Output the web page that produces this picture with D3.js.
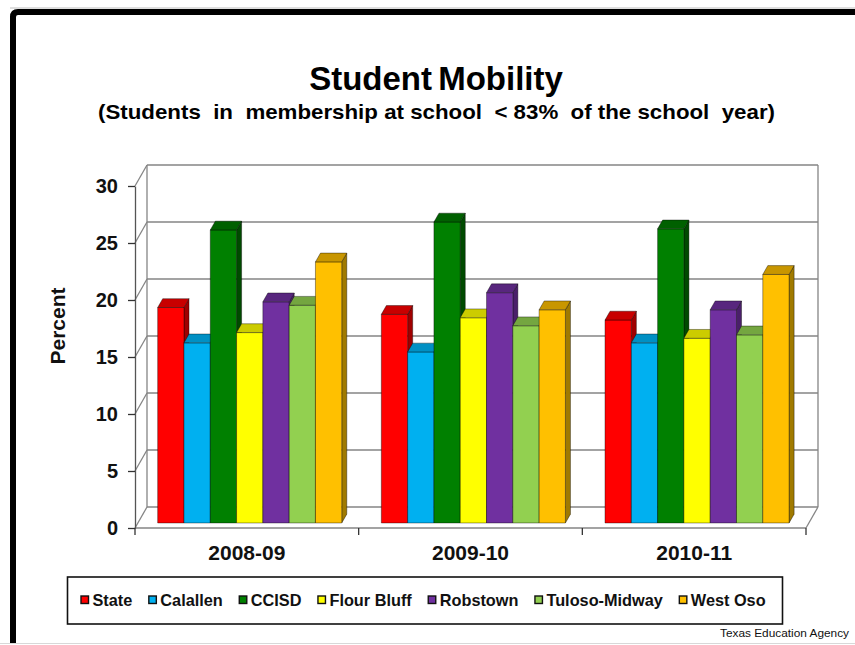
<!DOCTYPE html>
<html><head><meta charset="utf-8">
<script src="https://cdn.jsdelivr.net/npm/d3@7"></script>
<style>
html,body{margin:0;padding:0;background:#fff;}
svg{display:block;font-family:"Liberation Sans",Arial,sans-serif;}
</style>
</head><body>
<svg id="chart" width="855" height="645"></svg>
<script>
// School years and districts
const years = ["2008-09", "2009-10", "2010-11"];
const districts = ["State", "Calallen", "CCISD", "Flour Bluff", "Robstown", "Tuloso-Midway", "West Oso"];

// Percent of students in membership < 83% of the school year
const state        = [18.9, 18.3, 17.8];
const calallen     = [15.8, 15.0, 15.8];
const ccisd        = [25.7, 26.4, 25.8];
const flourBluff   = [16.7, 18.0, 16.2];
const robstown     = [19.4, 20.2, 18.7];
const tulosoMidway = [19.1, 17.3, 16.5];
const westOso      = [22.9, 18.7, 21.8];

const yTicks = [0, 5, 10, 15, 20, 25, 30];

const seriesValues = [state, calallen, ccisd, flourBluff, robstown, tulosoMidway, westOso];

// face colours: front, top, side
const frontColors = ["#FF0000", "#00B0F0", "#008000", "#FFFF00", "#7030A0", "#92D050", "#FFC000"];
const topColors   = ["#C80000", "#0090C4", "#006000", "#CCCC00", "#58267E", "#74A640", "#C89600"];
const sideColors  = ["#A00000", "#0078A6", "#004A00", "#A6A600", "#4A1F6A", "#5F8834", "#A07A00"];

const svg = d3.select("#chart");

// oblique projection of the 3D box
const depthDX = 12, depthDY = -21;
const barZ0 = 0.24, barZ1 = 0.66;
const plotLeft = 135, plotRight = 806;

const y = d3.scaleLinear().domain([0, 30]).range([528, 186]);
const xCat = d3.scaleBand().domain(years).range([plotLeft, plotRight]);
const groupPad = 19.8;
const xSer = d3.scaleBand().domain(districts).range([groupPad, xCat.bandwidth() - groupPad]);

const P = (x, v, z) => [x + depthDX * z, y(v) + depthDY * z];
const poly = pts => "M" + pts.map(p => p.join(",")).join("L") + "Z";

// page frame
svg.append("line").attr("x1", 10).attr("x2", 855).attr("y1", 8).attr("y2", 8)
  .attr("stroke", "#bdbdbd").attr("stroke-width", 1);
svg.append("line").attr("x1", 0).attr("x2", 855).attr("y1", 643.5).attr("y2", 643.5)
  .attr("stroke", "#d8d8d8").attr("stroke-width", 1);
svg.append("path")
  .attr("d", "M13,643 L13,17 Q13,12 18,12 L860,12")
  .attr("fill", "none").attr("stroke", "#000").attr("stroke-width", 6);

// titles
svg.append("text").attr("x", 436).attr("y", 90).attr("text-anchor", "middle")
  .attr("font-size", 33).attr("font-weight", "bold").attr("word-spacing", -3)
  .attr("fill", "#000").text("Student Mobility");
svg.append("text").attr("x", 436.5).attr("y", 119).attr("text-anchor", "middle")
  .attr("font-size", 21).attr("font-weight", "bold").attr("fill", "#000")
  .attr("textLength", 677).attr("lengthAdjust", "spacingAndGlyphs")
  .style("white-space", "pre")
  .text("(Students  in  membership at school  < 83%  of the school  year)");

// walls and gridlines
const grid = svg.append("g").attr("stroke", "#858585").attr("stroke-width", 1.3).attr("fill", "none");
yTicks.forEach(t => {
  grid.append("path").attr("d", "M" + P(plotLeft, t, 0) + "L" + P(plotLeft, t, 1));
  grid.append("path").attr("d", "M" + P(plotLeft, t, 1) + "L" + P(plotRight, t, 1));
});
grid.append("path").attr("d", "M" + P(plotLeft, 0, 1) + "L" + P(plotLeft, 30, 1));
grid.append("path").attr("d", "M" + P(plotRight, 0, 1) + "L" + P(plotRight, 30, 1));
grid.append("path").attr("d", "M" + P(plotLeft, 0, 0) + "L" + P(plotRight, 0, 0));
grid.append("path").attr("d", "M" + P(plotRight, 0, 0) + "L" + P(plotRight, 0, 1));

// bars
const bars = svg.append("g").attr("stroke", "rgba(0,0,0,0.55)").attr("stroke-width", 0.7)
  .attr("stroke-linejoin", "round");
years.forEach((yr, i) => {
  districts.forEach((d, j) => {
    const v = seriesValues[j][i];
    const xl = xCat(yr) + xSer(d);
    const xr = xl + xSer.bandwidth();
    bars.append("path").attr("fill", sideColors[j])
      .attr("d", poly([P(xr, 0, barZ0), P(xr, v, barZ0), P(xr, v, barZ1), P(xr, 0, barZ1)]));
    bars.append("path").attr("fill", frontColors[j])
      .attr("d", poly([P(xl, 0, barZ0), P(xl, v, barZ0), P(xr, v, barZ0), P(xr, 0, barZ0)]));
    bars.append("path").attr("fill", topColors[j])
      .attr("d", poly([P(xl, v, barZ0), P(xl, v, barZ1), P(xr, v, barZ1), P(xr, v, barZ0)]));
  });
});

// value axis
const yAxis = svg.append("g").attr("transform", `translate(${plotLeft},0)`)
  .call(d3.axisLeft(y).tickValues(yTicks).tickSize(7).tickSizeOuter(0).tickPadding(10));
yAxis.select(".domain").attr("stroke", "#555").attr("stroke-width", 1.3);
yAxis.selectAll(".tick line").attr("stroke", "#333").attr("stroke-width", 1.3);
yAxis.selectAll(".tick text").attr("font-size", 20).attr("font-weight", "bold")
  .attr("fill", "#111").attr("font-family", "Liberation Sans, Arial, sans-serif");

// category axis
const xAxis = svg.append("g").attr("transform", `translate(0,${y(0)})`)
  .call(d3.axisBottom(xCat).tickSize(0).tickPadding(17));
xAxis.select(".domain").remove();
xAxis.selectAll(".tick text").attr("font-size", 21).attr("font-weight", "bold")
  .attr("fill", "#111").attr("font-family", "Liberation Sans, Arial, sans-serif");
const bounds = years.map(yr => xCat(yr)).concat([plotRight]);
xAxis.selectAll(".bound").data(bounds).join("line").attr("class", "bound")
  .attr("x1", d => d).attr("x2", d => d).attr("y1", 0).attr("y2", 7)
  .attr("stroke", "#333").attr("stroke-width", 1.3);

// axis title
svg.append("text").attr("transform", "translate(65,326) rotate(-90)")
  .attr("text-anchor", "middle").attr("font-size", 21).attr("font-weight", "bold")
  .attr("fill", "#111").text("Percent");

// legend
svg.append("rect").attr("x", 67.5).attr("y", 577).attr("width", 715).attr("height", 47)
  .attr("fill", "#fff").attr("stroke", "#111").attr("stroke-width", 1.6);
const legend = svg.append("g");
let lx = 81;
districts.forEach((d, j) => {
  legend.append("rect").attr("x", lx).attr("y", 596).attr("width", 7.5).attr("height", 7.5)
    .attr("fill", frontColors[j]).attr("stroke", "#111").attr("stroke-width", 1.4);
  const t = legend.append("text").attr("x", lx + 11.5).attr("y", 605.5)
    .attr("font-size", 16.3).attr("font-weight", "bold").attr("fill", "#111").text(d);
  lx += 11.5 + t.node().getComputedTextLength() + 16.5;
});

// source note
svg.append("text").attr("x", 720).attr("y", 637).attr("font-size", 11)
  .attr("textLength", 129).attr("lengthAdjust", "spacingAndGlyphs")
  .attr("fill", "#111").text("Texas Education Agency");
</script>
</body></html>
